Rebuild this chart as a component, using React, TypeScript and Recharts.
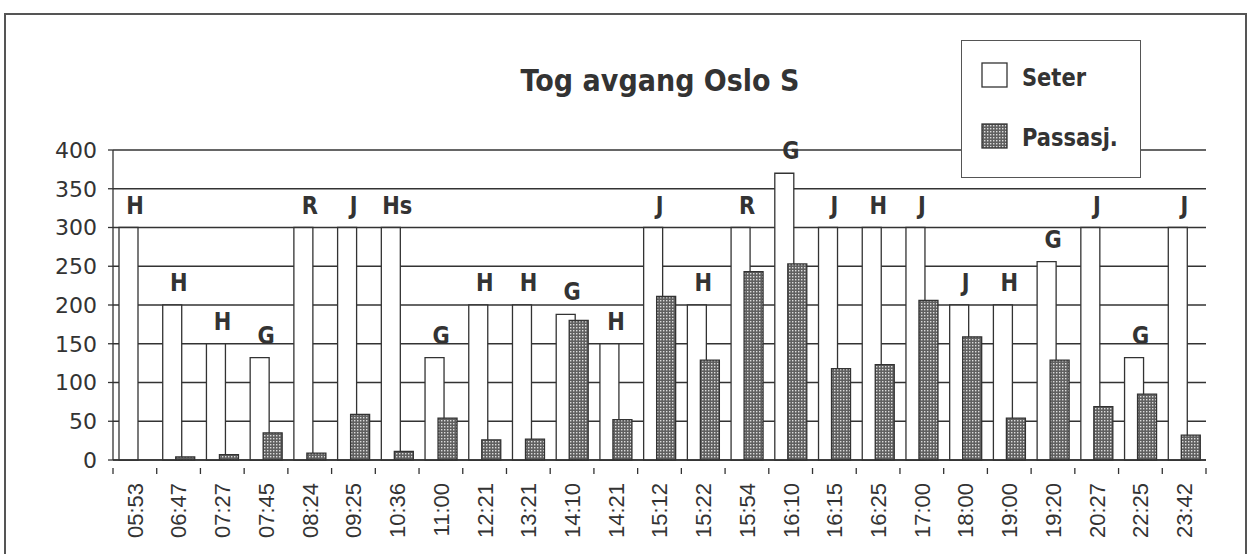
import { BarChart, Bar, XAxis, YAxis, CartesianGrid, Legend, LabelList } from "recharts"

// departures from Oslo S
const departures = [
  "05:53", "06:47", "07:27", "07:45", "08:24", "09:25", "10:36", "11:00", "12:21",
  "13:21", "14:10", "14:21", "15:12", "15:22", "15:54", "16:10", "16:15", "16:25",
  "17:00", "18:00", "19:00", "19:20", "20:27", "22:25", "23:42",
]
// train type letter shown above each pair of bars
const trainType = [
  "H", "H", "H", "G", "R", "J", "Hs", "G", "H", "H", "G", "H", "J", "H", "R", "G",
  "J", "H", "J", "J", "H", "G", "J", "G", "J",
]
const seter = [
  300, 200, 150, 132, 300, 300, 300, 132, 200, 200, 188, 150, 300, 200, 300, 370,
  300, 300, 300, 200, 200, 256, 300, 132, 300,
]
const passasj = [
  0, 4, 7, 35, 9, 59, 11, 54, 26, 27, 180, 52, 211, 129, 243, 253,
  118, 123, 206, 159, 54, 129, 69, 85, 32,
]
const yTicks = [0, 50, 100, 150, 200, 250, 300, 350, 400]

const data = departures.map((d, i) => ({ time: d, type: trainType[i], seter: seter[i], passasj: passasj[i] }))

const W = 1250
const H = 554
const M = { top: 150, right: 44, bottom: 10, left: 33 }
const Y_W = 80
const PLOT_W = W - M.left - M.right - Y_W
const HALF_BAND = PLOT_W / departures.length / 2
const BAR = 19
const GAP = -6
const INK = "#333"
const LETTERS = "'DejaVu Sans', sans-serif"

const DotPattern = ({ id }: { id: string }) => (
  <pattern id={id} width="3" height="3" patternUnits="userSpaceOnUse">
    <rect width="3" height="3" fill="#606060" />
    <rect x="0" y="0" width="1.4" height="1.4" fill="#dcdcdc" />
  </pattern>
)

// eslint-disable-next-line @typescript-eslint/no-explicit-any
const TypeLabel = (props: any) => {
  const { x, y, index } = props
  const cx = x + (2 * BAR + GAP) / 2
  return (
    <text
      transform={`translate(${cx}, ${y - 14}) scale(1, 1.2)`}
      textAnchor="middle"
      fontFamily={LETTERS}
      fontWeight="bold"
      fontSize={21}
      fill={INK}
    >
      {trainType[index]}
    </text>
  )
}

// eslint-disable-next-line @typescript-eslint/no-explicit-any
const TimeTick = (props: any) => {
  const { x, y, payload, index } = props
  const last = index === departures.length - 1
  return (
    <g>
      <line x1={x - HALF_BAND} x2={x - HALF_BAND} y1={y} y2={y + 6} stroke={INK} strokeWidth={1.3} />
      {last && <line x1={x + HALF_BAND} x2={x + HALF_BAND} y1={y} y2={y + 6} stroke={INK} strokeWidth={1.3} />}
      <text
        x={x}
        y={y + 15}
        transform={`rotate(-90, ${x}, ${y + 15})`}
        textAnchor="end"
        dy="0.36em"
        fontFamily="'Liberation Sans', Arial, sans-serif"
        fontSize={22}
        fill={INK}
      >
        {payload.value}
      </text>
    </g>
  )
}

const LegendBox = () => (
  <div style={{ position: "relative", width: 180, height: 138, boxSizing: "border-box", border: "1.5px solid #555", background: "#fff", fontFamily: LETTERS, fontWeight: "bold", fontSize: 21, color: INK }}>
    <svg width={28} height={90} style={{ position: "absolute", left: 19, top: 21 }}>
      <defs>
        <DotPattern id="legendDots" />
      </defs>
      <rect x={1} y={1} width={25} height={24} fill="#fff" stroke={INK} strokeWidth={1.3} />
      <rect x={1} y={62} width={25} height={24} fill="url(#legendDots)" stroke={INK} strokeWidth={1.3} />
    </svg>
    <div style={{ position: "absolute", left: 60, top: 24, lineHeight: "26px", transform: "scaleY(1.15)" }}>Seter</div>
    <div style={{ position: "absolute", left: 60, top: 84, lineHeight: "26px", transform: "scaleY(1.15)" }}>Passasj.</div>
  </div>
)

export default function App() {
  return (
    <div style={{ position: "absolute", left: 0, top: 0, width: W, height: H, overflow: "hidden", background: "#fff" }}>
      <div style={{ position: "absolute", left: 4, top: 13, width: 1243, height: 600, border: "2px solid #555", boxSizing: "border-box" }} />
      <svg width={W} height={120} style={{ position: "absolute", left: 0, top: 0 }}>
        <text transform="translate(660, 91) scale(1, 1.12)" textAnchor="middle" fontFamily={LETTERS} fontWeight="bold" fontSize={27} fill={INK}>
          Tog avgang Oslo S
        </text>
      </svg>
      <div style={{ position: "absolute", left: 0, top: 0 }}>
        <BarChart width={W} height={H} data={data} margin={M} barSize={BAR} barGap={GAP}>
          <defs>
            <DotPattern id="dots" />
          </defs>
          <CartesianGrid vertical={false} stroke={INK} strokeWidth={1.3} />
          <XAxis
            dataKey="time"
            height={84}
            interval={0}
            tick={<TimeTick />}
            tickLine={false}
            axisLine={{ stroke: INK, strokeWidth: 1.3 }}
          />
          <YAxis
            width={Y_W}
            domain={[0, 400]}
            ticks={yTicks}
            tickSize={5}
            tickMargin={11}
            tickLine={{ stroke: INK, strokeWidth: 1.3 }}
            axisLine={{ stroke: INK, strokeWidth: 1.3 }}
            tick={{ fill: INK, fontSize: 22, fontFamily: LETTERS }}
          />
          <Legend
            layout="vertical"
            align="center"
            verticalAlign="middle"
            content={<LegendBox />}
            wrapperStyle={{ left: 961, top: 40, width: 180, height: 138 }}
          />
          <Bar dataKey="seter" name="Seter" fill="#fff" stroke={INK} strokeWidth={1.3} isAnimationActive={false}>
            <LabelList dataKey="type" content={<TypeLabel />} />
          </Bar>
          <Bar dataKey="passasj" name="Passasj." fill="url(#dots)" stroke={INK} strokeWidth={1.3} isAnimationActive={false} />
        </BarChart>
      </div>
    </div>
  )
}
